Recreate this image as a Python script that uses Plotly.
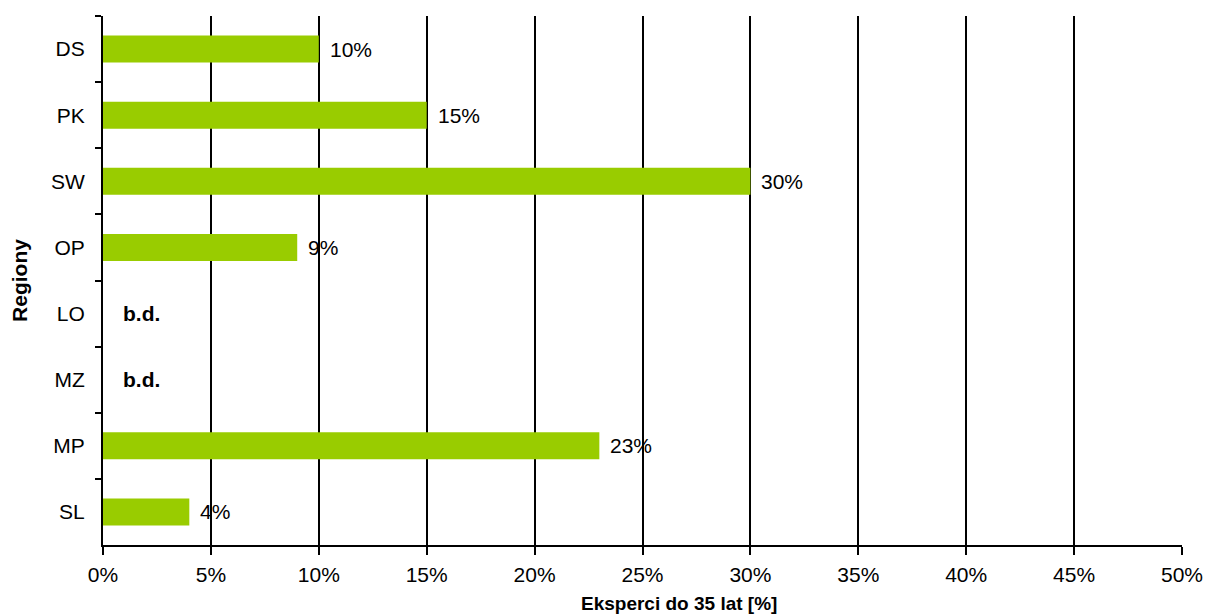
import plotly.graph_objects as go

regions = ["DS", "PK", "SW", "OP", "LO", "MZ", "MP", "SL"]
values = [10, 15, 30, 9, 0, 0, 23, 4]
labels = ["10%", "15%", "30%", "9%", "b.d.", "b.d.", "23%", "4%"]
x_ticks = [0, 5, 10, 15, 20, 25, 30, 35, 40, 45, 50]
x_tick_labels = [f"{v}%" for v in x_ticks]

FONT = "Liberation Sans, Arial, sans-serif"

fig = go.Figure()
fig.add_trace(go.Bar(
    y=regions, x=values, orientation="h",
    marker=dict(color="#99CC00", line=dict(width=0)),
    width=0.41,
    hoverinfo="skip",
))

annotations = []
for r, v, t in zip(regions, values, labels):
    is_missing = t == "b.d."
    annotations.append(dict(
        x=v, y=r, xref="x", yref="y",
        text=f"<b>{t}</b>" if is_missing else t,
        showarrow=False, xanchor="left", yanchor="middle",
        xshift=18 if is_missing else 9,
        font=dict(family=FONT, size=21, color="#000"),
    ))
annotations.append(dict(
    x=0.534, y=-0.134, xref="paper", yref="paper",
    text="<b>Eksperci do 35 lat [%]</b>", showarrow=False,
    xanchor="center", yanchor="bottom",
    font=dict(family=FONT, size=19, color="#000"),
))

fig.update_layout(
    width=1206, height=615,
    margin=dict(l=103, r=24, t=16, b=70, autoexpand=False),
    plot_bgcolor="white", paper_bgcolor="white",
    showlegend=False,
    annotations=annotations,
    font=dict(family=FONT, size=21, color="#000"),
    xaxis=dict(
        range=[0, 50], tickvals=x_ticks, ticktext=x_tick_labels,
        automargin=False,
        showgrid=True, gridcolor="#000", gridwidth=2,
        showline=True, linecolor="#000", linewidth=2,
        ticks="outside", ticklen=8, tickwidth=2, tickcolor="#000",
        ticklabelstandoff=2,
        zeroline=False, mirror=False,
        tickfont=dict(family=FONT, size=21, color="#000"),
    ),
    yaxis=dict(
        type="category", categoryorder="array", categoryarray=regions,
        autorange="reversed",
        automargin=False,
        tickson="boundaries",
        showgrid=False,
        showline=True, linecolor="#000", linewidth=2,
        ticks="outside", ticklen=6, tickwidth=2, tickcolor="#000",
        ticklabelstandoff=12,
        title=dict(text="<b>Regiony</b>", font=dict(family=FONT, size=21, color="#000"), standoff=18),
        tickfont=dict(family=FONT, size=21, color="#000"),
    ),
)

fig.write_html("out.html")
